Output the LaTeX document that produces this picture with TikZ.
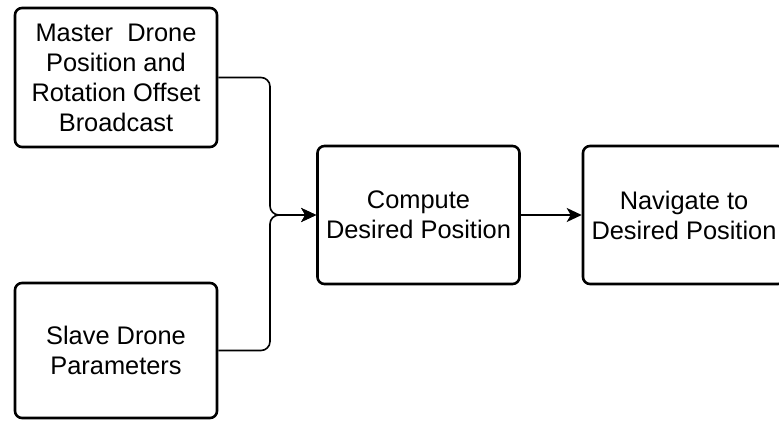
\documentclass[tikz,border=0pt]{standalone}
\usepackage{fontspec}
\setmainfont{Liberation Sans}
\usetikzlibrary{arrows.meta}
\tikzset{
    stagebox/.style={draw, line width=2.6pt, rounded corners=7pt, align=center,
        minimum width=202pt, inner sep=0pt,
        font=\fontsize{25.4}{30}\selectfont},
    flow/.style={line width=1.6pt, rounded corners=9pt,
        -{Stealth[length=15pt, width=14pt, inset=4pt]}}
}
\begin{document}
\begin{tikzpicture}[x=1pt, y=1pt]
                \useasboundingbox (0,0) rectangle (779,421);
                \node[stagebox, minimum height=139pt] (master) at (116,343.5) {Master\ \ Drone\\Position and\\Rotation Offset\\Broadcast};
                \node[stagebox, minimum height=135pt] (slave) at (116,70.5) {Slave Drone\\Parameters};
                \node[stagebox, minimum height=138pt] (compute) at (418.5,206) {Compute\\Desired Position};
                \node[stagebox, minimum height=138pt] (navigate) at (684,206) {Navigate to\\Desired Position};
                \coordinate (join) at (270,206);
                \draw[flow] (master.east) -| (join) -- (compute.west);
                \draw[flow] (slave.east) -| (join) -- (compute.west);
                \draw[flow, rounded corners=0pt] (compute.east) -- (navigate.west);
            \end{tikzpicture}
\end{document}
